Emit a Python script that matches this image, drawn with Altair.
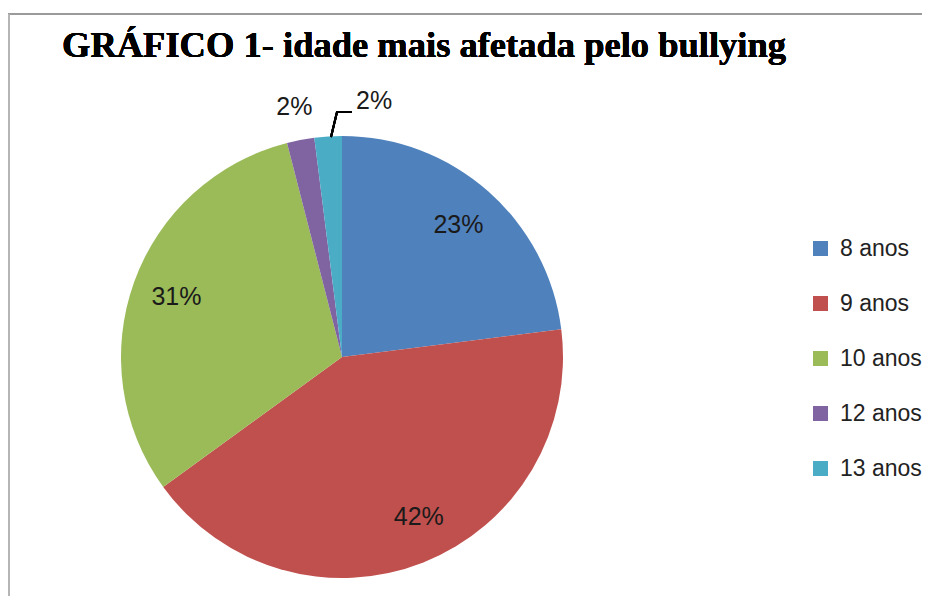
import altair as alt
import pandas as pd

categories = ["8 anos", "9 anos", "10 anos", "12 anos", "13 anos"]
values = [23, 42, 31, 2, 2]
labels = ["23%", "42%", "31%", "2%", "2%"]
colors = ["#4F81BD", "#C0504D", "#9BBB59", "#8064A2", "#4BACC6"]
title_text = "GRÁFICO 1- idade mais afetada pelo bullying"

df = pd.DataFrame({"cat": categories, "value": values, "label": labels, "idx": list(range(len(categories)))})

W, H = 914, 588
cx, cy, R = 334, 349, 221
FONT = "Liberation Sans"

pie = alt.Chart(df).mark_arc(outerRadius=R).encode(
    theta=alt.Theta("value:Q", stack=True),
    order=alt.Order("idx:Q"),
    color=alt.Color(
        "cat:N",
        scale=alt.Scale(domain=categories, range=colors),
        sort=categories,
        legend=alt.Legend(
            orient="none", legendX=801, legendY=229, title=None,
            symbolType="square", symbolSize=225, symbolStrokeWidth=0,
            labelFontSize=23, labelFont=FONT, labelColor="#222222",
            rowPadding=31, labelOffset=8, labelLimit=300,
        ),
    ),
    x=alt.value(cx), y=alt.value(cy),
)

stacked = alt.Chart(df).transform_window(
    cum="sum(value)", sort=[alt.SortField("idx")], frame=[None, 0]
).transform_calculate(mid="datum.cum - datum.value / 2")

theta_mid = alt.Theta("mid:Q", scale=alt.Scale(domain=[0, 100], range=[0, 6.283185307]), stack=None)

inside = stacked.transform_filter("datum.value > 5 && datum.idx != 1").mark_text(
    radius=176, font=FONT, fontSize=25, color="#1a1a1a", align="center", baseline="middle"
).encode(theta=theta_mid, text="label:N", x=alt.value(cx), y=alt.value(cy))

inside_red = stacked.transform_filter("datum.idx == 1").mark_text(
    radius=176, dx=12, dy=-4, font=FONT, fontSize=25, color="#1a1a1a", align="center", baseline="middle"
).encode(theta=theta_mid, text="label:N", x=alt.value(cx), y=alt.value(cy))

outside1 = stacked.transform_filter("datum.idx == 3").mark_text(
    radius=254, font=FONT, fontSize=25, color="#1a1a1a", align="center", baseline="middle"
).encode(theta=theta_mid, text="label:N", x=alt.value(cx), y=alt.value(cy))

outside2 = stacked.transform_filter("datum.idx == 4").mark_text(
    radius=254, dx=48, dy=-3, font=FONT, fontSize=25, color="#1a1a1a", align="center", baseline="middle"
).encode(theta=theta_mid, text="label:N", x=alt.value(cx), y=alt.value(cy))

leader_a = alt.Chart(df).mark_rule(color="#000000", strokeWidth=2).encode(
    x=alt.value(323), y=alt.value(129), x2=alt.value(329), y2=alt.value(104)
)
leader_b = alt.Chart(df).mark_rule(color="#000000", strokeWidth=2).encode(
    x=alt.value(328), y=alt.value(104), x2=alt.value(344), y2=alt.value(104)
)

title = alt.Chart(df).mark_text(
    text=title_text, font="Liberation Serif", fontWeight="bold", fontSize=36.5,
    align="left", baseline="alphabetic", color="#000000"
).encode(x=alt.value(54), y=alt.value(49))

border_top = alt.Chart(df).mark_rule(color="#9a9a9a", strokeWidth=2).encode(
    x=alt.value(0), x2=alt.value(W), y=alt.value(6)
)
border_left = alt.Chart(df).mark_rule(color="#b5b5b5", strokeWidth=2).encode(
    x=alt.value(1), y=alt.value(6), y2=alt.value(H)
)

chart = alt.layer(
    border_top, border_left, pie, inside, inside_red, outside1, outside2, leader_a, leader_b, title
).properties(
    width=W, height=H, padding=0, autosize=alt.AutoSizeParams(type="none")
).configure_view(stroke=None)

chart.save("out.html", embed_options={"renderer": "svg", "actions": False})
